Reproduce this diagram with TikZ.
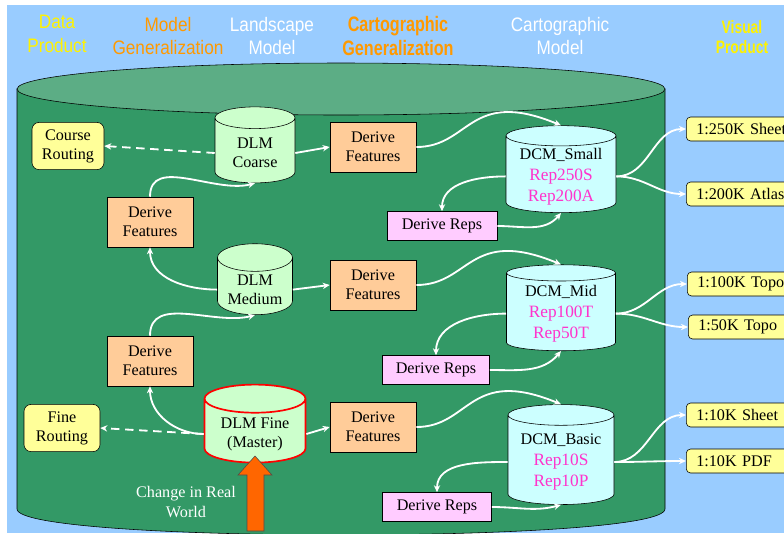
\documentclass[tikz,border=0pt]{standalone}
\usepackage{fontspec}
\setmainfont{Liberation Serif}
\newfontfamily\headfont[FakeStretch=0.88]{Liberation Sans}
\newfontfamily\headboldfont[FakeStretch=0.77]{Liberation Sans}
\usetikzlibrary{shapes.geometric,arrows.meta}

\definecolor{skyblue}{HTML}{99CCFF}
\definecolor{drumgreen}{HTML}{339966}
\definecolor{drumtop}{HTML}{5CAD85}
\definecolor{dlmfill}{HTML}{CCFFCC}
\definecolor{dcmfill}{HTML}{CCFFFF}
\definecolor{featfill}{HTML}{FFCC99}
\definecolor{repfill}{HTML}{FFCCFF}
\definecolor{prodfill}{HTML}{FFFF99}
\definecolor{repmagenta}{HTML}{FF33CC}
\definecolor{headorange}{HTML}{FF9900}
\definecolor{changeorange}{HTML}{FF6600}

\tikzset{
  header/.style={font=\headfont\fontsize{13.9}{17}\selectfont, align=center},
  boldheader/.style={font=\headboldfont\bfseries\fontsize{14.9}{17}\selectfont, align=center},
  plainbox/.style={draw, font=\fontsize{11.5}{13.5}\selectfont, align=center},
  drum/.style={plainbox, cylinder, shape border rotate=90, inner ysep=0pt},
  dlm/.style={drum, fill=dlmfill, aspect=0.4},
  dcm/.style={drum, fill=dcmfill, aspect=0.22, font=\fontsize{11.5}{15}\selectfont},
  feat/.style={plainbox, fill=featfill, minimum width=2.15cm, minimum height=1.25cm},
  reps/.style={plainbox, fill=repfill, minimum height=0.725cm},
  routing/.style={plainbox, fill=prodfill, rounded corners=5pt, minimum height=1.18cm},
  product/.style={plainbox, fill=prodfill, rounded corners=3pt, anchor=west, minimum height=0.6cm, text width=2.6cm, align=left, inner xsep=0.25cm},
  flow/.style={white, line width=1.3pt, -{Stealth[length=5pt,width=4.5pt]}},
  routeflow/.style={flow, dash pattern=on 6pt off 4pt},
}
\newcommand{\rep}[1]{{\fontsize{12.3}{15}\selectfont\color{repmagenta}#1}}

\begin{document}
\begin{tikzpicture}
\useasboundingbox (0,0) rectangle (19.6,-13.325);
\fill[skyblue] (0.175,-0.125) rectangle (19.6,-13.325);

% big drum
\draw[fill=drumgreen] (0.425,-2.225) -- (0.425,-12.725) .. controls (0.425,-13.59) and (16.625,-13.59) .. (16.625,-12.725) -- (16.625,-2.225) -- cycle;
\draw[fill=drumtop] (8.525,-2.225) ellipse (8.1 and 0.65);

% column heads
\node[header, text=yellow] (hdata) at (1.425,-0.85) {Data\\Product};
\node[header, text=headorange] (hmodgen) at (4.2,-0.9) {Model\\Generalization};
\node[header, text=white] (hland) at (6.8,-0.9) {Landscape\\Model};
\node[boldheader, text=headorange] (hcartgen) at (9.95,-0.9) {Cartographic\\Generalization};
\node[header, text=white] (hcart) at (14.0,-0.9) {Cartographic\\Model};
\node[boldheader, text=yellow, font=\headboldfont\bfseries\fontsize{12.8}{14.2}\selectfont] (hvis) at (18.55,-0.925) {Visual\\Product};

% landscape models
\node[dlm, minimum width=2cm, minimum height=1.9cm] (dlmC) at (6.375,-3.825) {DLM\\Coarse};
\node[dlm, aspect=0.43, minimum width=1.875cm, minimum height=1.775cm] (dlmM) at (6.375,-7.24) {DLM\\Medium};
\node[dlm, aspect=0.36, draw=red, line width=1.2pt, minimum width=2.525cm, minimum height=1.95cm] (dlmF) at (6.375,-10.85) {DLM Fine\\(Master)};

\node[routing, minimum width=1.8cm] (courseR) at (1.7,-3.65) {Course\\Routing};
\node[routing, minimum width=1.9cm] (fineR) at (1.55,-10.7) {Fine\\Routing};

\node[feat] (dfL1) at (3.75,-5.55) {Derive\\Features};
\node[feat] (dfL2) at (3.75,-9.025) {Derive\\Features};

% cartographic generalization
\node[feat] (dfA) at (9.325,-3.675) {Derive\\Features};
\node[feat] (dfB) at (9.325,-7.125) {Derive\\Features};
\node[feat] (dfC) at (9.325,-10.675) {Derive\\Features};

\node[reps, minimum width=2.75cm] (repsS) at (11.05,-5.65) {Derive Reps};
\node[reps, minimum width=2.675cm] (repsM) at (10.9,-9.25) {Derive Reps};
\node[reps, minimum width=2.725cm] (repsB) at (10.925,-12.675) {Derive Reps};

% cartographic models
\node[dcm, minimum width=2.75cm, minimum height=2.175cm] (dcmS) at (14.025,-4.41) {DCM\_Small\\\rep{Rep250S}\\\rep{Rep200A}};
\node[dcm, aspect=0.2, minimum width=2.725cm, minimum height=2.15cm] (dcmM) at (14.025,-7.84) {DCM\_Mid\\\rep{Rep100T}\\\rep{Rep50T}};
\node[dcm, aspect=0.23, minimum width=2.65cm, minimum height=2.5cm] (dcmB) at (14.025,-11.55) {DCM\_Basic\\\rep{Rep10S}\\\rep{Rep10P}};

% visual products
\node[product] (p250) at (17.15,-3.225) {1:250K Sheet};
\node[product] (p200) at (17.15,-4.85) {1:200K Atlas};
\node[product] (p100) at (17.175,-7.1) {1:100K Topo};
\node[product] (p50) at (17.2,-8.175) {1:50K Topo};
\node[product] (p10S) at (17.15,-10.375) {1:10K Sheet};
\node[product] (p10P) at (17.15,-11.525) {1:10K PDF};

% real world change
\node[text=white, font=\fontsize{11.5}{14.2}\selectfont, align=center] (change) at (4.65,-12.55) {Change in Real\\World};
\draw[fill=changeorange, draw=black!70] (6.375,-11.4) -- (6.8,-11.875) -- (6.6,-11.875) -- (6.6,-13.275) -- (6.175,-13.275) -- (6.175,-11.875) -- (5.95,-11.875) -- cycle;

% connectors
\draw[routeflow] (dlmC.west) -- (courseR.east);
\draw[routeflow] (dlmF.west) -- (fineR.east);

\draw[flow] (dlmF.west) to[out=180,in=-90] (dfL2.south);
\draw[flow] (dfL2.north) to[out=90,in=195] (dlmM.south);
\draw[flow] (dlmM.west) to[out=180,in=-90] (dfL1.south);
\draw[flow] (dfL1.north) to[out=90,in=195] (dlmC.south);

\draw[flow] (dlmC.east) -- (dfA.west);
\draw[flow] (dlmM.east) -- (dfB.west);
\draw[flow] (dlmF.east) -- (dfC.west);

\draw[flow] (dfA.east) .. controls +(1.35,0) and +(-2.3,0.95) .. (dcmS.north);
\draw[flow] (dfB.east) .. controls +(1.35,0) and +(-2.3,0.95) .. (dcmM.north);
\draw[flow] (dfC.east) .. controls +(1.35,0) and +(-2.3,0.95) .. (dcmB.north);

\draw[flow] (dcmS.west) to[out=180,in=90] (repsS.north);
\draw[flow] (dcmM.west) to[out=180,in=90] (repsM.north);
\draw[flow] (dcmB.west) to[out=180,in=90] (repsB.north);
\draw[flow] (repsS.east) to[out=0,in=-130] (dcmS.south);
\draw[flow] (repsM.east) to[out=0,in=-130] (dcmM.south);
\draw[flow] (repsB.east) to[out=0,in=-165] (dcmB.south);

\draw[flow] (dcmS.east) to[out=0,in=180] (p250.west);
\draw[flow] (dcmS.east) to[out=0,in=180] (p200.west);
\draw[flow] (dcmM.east) to[out=0,in=180] (p100.west);
\draw[flow] (dcmM.east) to[out=0,in=180] (p50.west);
\draw[flow] (dcmB.east) to[out=0,in=180] (p10S.west);
\draw[flow] (dcmB.east) to[out=0,in=180] (p10P.west);
\end{tikzpicture}
\end{document}
